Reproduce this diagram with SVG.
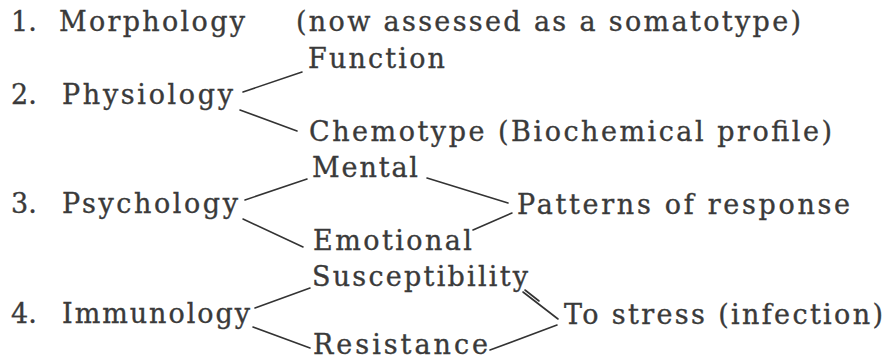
<svg xmlns="http://www.w3.org/2000/svg" width="895" height="361" viewBox="0 0 895 361">
<style>
text { font-family: "DejaVu Serif", "Liberation Serif", serif; font-size: 27px; fill: #3a3a3a; stroke: #3a3a3a; stroke-width: 0.35; }
.c line { stroke: #333333; stroke-width: 1.6; fill: none; stroke-linecap: round; }
</style>
<rect width="895" height="361" fill="#ffffff"/>
<g id="n1">
  <text x="11" y="31">1.</text>
  <text x="59" y="31" textLength="186" lengthAdjust="spacing">Morphology</text>
</g>
<g id="n1note"><text x="296" y="31" textLength="505" lengthAdjust="spacing">(now assessed as a somatotype)</text></g>
<g id="n2">
  <text x="11" y="104">2.</text>
  <text x="62" y="104" textLength="171" lengthAdjust="spacing">Physiology</text>
</g>
<g id="function"><text x="308" y="68" textLength="137" lengthAdjust="spacing">Function</text></g>
<g id="chemotype"><text x="309" y="141" textLength="523" lengthAdjust="spacing">Chemotype (Biochemical profile)</text></g>
<g id="n3">
  <text x="11" y="213">3.</text>
  <text x="62" y="213" textLength="176" lengthAdjust="spacing">Psychology</text>
</g>
<g id="mental"><text x="312" y="177" textLength="106" lengthAdjust="spacing">Mental</text></g>
<g id="emotional"><text x="313" y="250" textLength="159" lengthAdjust="spacing">Emotional</text></g>
<g id="patterns"><text x="517" y="214" textLength="333" lengthAdjust="spacing">Patterns of response</text></g>
<g id="n4">
  <text x="11" y="323">4.</text>
  <text x="62" y="323" textLength="188" lengthAdjust="spacing">Immunology</text>
</g>
<g id="susceptibility"><text x="312" y="286" textLength="216" lengthAdjust="spacing">Susceptibility</text></g>
<g id="resistance"><text x="313" y="354" textLength="175" lengthAdjust="spacing">Resistance</text></g>
<g id="stress"><text x="564" y="324" textLength="319" lengthAdjust="spacing">To stress (infection)</text></g>
<g id="connectors" class="c">
  <line x1="243" y1="92" x2="302" y2="72"/>
  <line x1="240" y1="110" x2="297" y2="131"/>
  <line x1="245" y1="200" x2="307" y2="179"/>
  <line x1="243" y1="219" x2="303" y2="247"/>
  <line x1="427" y1="178" x2="508" y2="203"/>
  <line x1="473" y1="230" x2="512" y2="213"/>
  <line x1="255" y1="308" x2="310" y2="288"/>
  <line x1="253" y1="327" x2="310" y2="348"/>
  <line x1="523" y1="292" x2="558" y2="319"/>
  <line x1="525" y1="290" x2="539" y2="301"/>
  <line x1="490" y1="350" x2="557" y2="325"/>
</g>
</svg>
